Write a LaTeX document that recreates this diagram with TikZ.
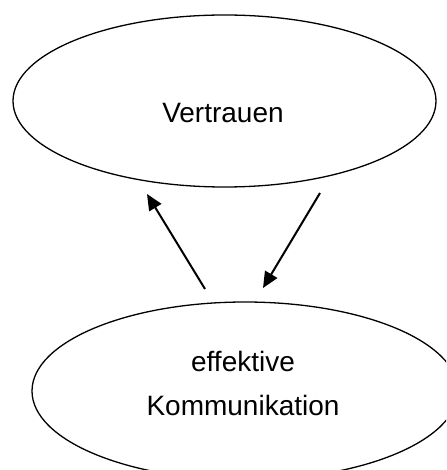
\documentclass[tikz,border=0pt]{standalone}
\usepackage{fontspec}
\setmainfont{Liberation Sans}
\usetikzlibrary{shapes.geometric,arrows.meta}
\tikzset{
  oval/.style={draw=black, line width=1.3pt, ellipse, inner sep=0pt},
  lbl/.style={font=\fontsize{28}{44}\selectfont, text=black, inner sep=0pt, align=center},
  conn/.style={draw=black, line width=2pt, -{Triangle[length=16pt,width=14pt]}}
}
\begin{document}
\begin{tikzpicture}[x=1pt,y=-1pt]
\useasboundingbox (0,0) rectangle (446,470);
\clip (0,0) rectangle (446,470);
\fill[white] (0,0) rectangle (446,470);
\node[oval, minimum width=423pt, minimum height=172pt] (top) at (224.5,101) {};
\node[oval, minimum width=426pt, minimum height=178pt] (bot) at (245,391) {};
\node[lbl, anchor=base] (t1) at (223,123) {Vertrauen};
\node[lbl, anchor=base] (b1) at (243,371) {effektive};
\node[lbl, anchor=base] (b2) at (243,415) {Kommunikation};
\coordinate (la) at (205,289);
\coordinate (lb) at (147,194);
\coordinate (ra) at (320,193);
\coordinate (rb) at (263,288);
\draw[conn] (la) -- (lb);
\draw[conn] (ra) -- (rb);
\end{tikzpicture}
\end{document}
